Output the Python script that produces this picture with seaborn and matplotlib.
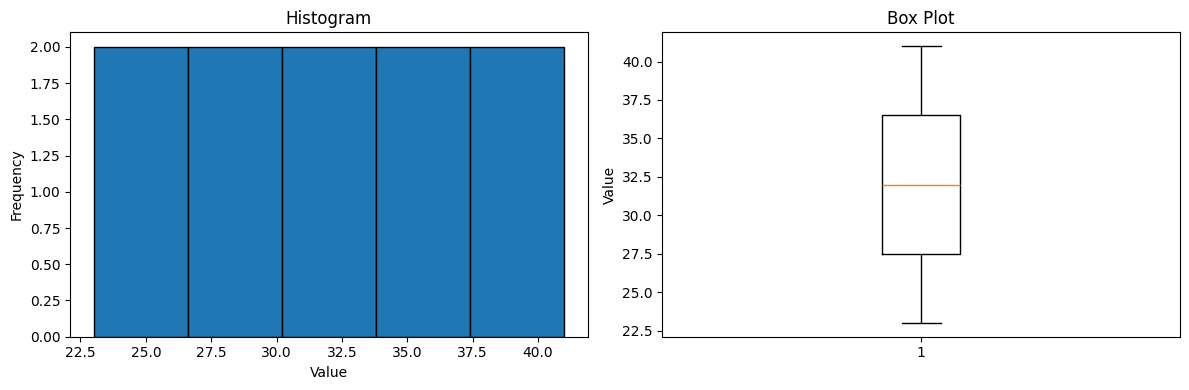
import matplotlib
matplotlib.use("Agg")
import matplotlib.pyplot as plt
import seaborn as sns
import pandas as pd

values = [23, 25, 27, 29, 31, 33, 35, 37, 39, 41]
group_labels = ["1"] * len(values)

df = pd.DataFrame({"value": values, "group": group_labels})

fig, axes = plt.subplots(1, 2, figsize=(12, 4), dpi=100)

ax = axes[0]
sns.histplot(data=df, x="value", bins=5, color="#1f77b4", edgecolor="black",
             alpha=1, linewidth=1, ax=ax)
ax.set_title("Histogram")
ax.set_xlabel("Value")
ax.set_ylabel("Frequency")

ax = axes[1]
sns.boxplot(data=df, x="group", y="value", width=0.15, fill=False,
            color="black", linewidth=1,
            medianprops={"color": "#ff7f0e", "linewidth": 1},
            whiskerprops={"color": "black", "linewidth": 1},
            capprops={"color": "black", "linewidth": 1},
            boxprops={"color": "black", "linewidth": 1},
            ax=ax)
ax.set_title("Box Plot")
ax.set_xlabel("")
ax.set_ylabel("Value")

fig.tight_layout()
fig.savefig("out.png", dpi=100, bbox_inches="tight")
